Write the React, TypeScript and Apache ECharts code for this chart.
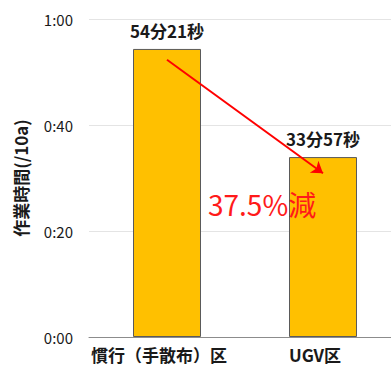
import React, { useEffect, useRef } from "react";
import * as echarts from "echarts";

const categories = ["慣行（手散布）区", "UGV区"];
const minutes = [54, 33];
const seconds = [21, 57];
const yTicks = [0, 20, 40, 60];
const arrowFrom = 52.3;
const arrowTo = 30.9;

const FONT = '"Noto Sans CJK JP", "Noto Sans", sans-serif';

export default function App() {
  const ref = useRef<HTMLDivElement>(null);
  useEffect(() => {
    if (!ref.current) return;
    const chart = echarts.init(ref.current, null, { renderer: "svg" });
    const values = minutes.map((m, i) => m + seconds[i] / 60);
    const pct = ((1 - values[1] / values[0]) * 100).toFixed(1);
    const fmt = (v: number) => {
      const h = Math.floor(v / 60);
      const m = Math.round(v % 60);
      return `${h}:${m < 10 ? "0" + m : m}`;
    };
    chart.setOption({
      animation: false,
      textStyle: { fontFamily: FONT },
      grid: { left: 89, right: -10, top: 19, bottom: 35, outerBoundsMode: "none", containLabel: false },
      xAxis: {
        type: "category",
        data: categories,
        axisTick: { show: false },
        axisLine: { lineStyle: { color: "#8c8c8c", width: 1 } },
        axisLabel: {
          interval: 0,
          hideOverlap: false,
          color: "#1a1a1a",
          fontSize: 17,
          fontWeight: "bold",
          fontFamily: FONT,
          margin: 9,
          padding: [0, 16, 0, 0],
        },
      },
      yAxis: {
        type: "value",
        min: yTicks[0],
        max: yTicks[yTicks.length - 1],
        interval: 20,
        name: "作業時間(/10a)",
        nameLocation: "middle",
        nameGap: 60,
        nameRotate: 90,
        nameTextStyle: { color: "#1a1a1a", fontSize: 17, fontWeight: "bold", fontFamily: FONT },
        axisLine: { show: false },
        axisTick: { show: false },
        axisLabel: { color: "#1a1a1a", fontSize: 15, margin: 16, formatter: fmt, fontFamily: FONT },
        splitLine: { lineStyle: { color: "#e4e4e4", width: 1 } },
      },
      series: [
        {
          type: "bar",
          data: values,
          barWidth: 68,
          itemStyle: { color: "#FFC000", borderColor: "#5a5a5a", borderWidth: 1 },
          label: {
            show: true,
            position: "top",
            distance: 10,
            color: "#1a1a1a",
            fontSize: 17,
            fontWeight: "bold",
            fontFamily: FONT,
            formatter: (p: any) => `${minutes[p.dataIndex]}分${seconds[p.dataIndex]}秒`,
          },
          markLine: {
            silent: true,
            symbol: ["none", "arrow"],
            symbolSize: 11,
            label: { show: false },
            lineStyle: { color: "#ff0000", width: 2, type: "solid" },
            data: [[{ coord: [0, arrowFrom] }, { coord: [1, arrowTo] }]],
          },
        },
      ],
      graphic: [
        {
          type: "text",
          left: 208,
          top: 190,
          z: 100,
          style: {
            text: `${pct}%減`,
            fill: "#ff1a1a",
            font: `28px ${FONT}`,
          },
        },
      ],
    });
    return () => chart.dispose();
  }, []);
  return (
    <div
      ref={ref}
      style={{ position: "fixed", left: 0, top: 0, width: 391, height: 372, background: "#fff" }}
    />
  );
}
